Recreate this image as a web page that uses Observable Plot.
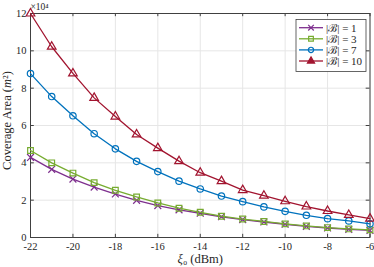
<!DOCTYPE html>
<html><head><meta charset="utf-8">
<script src="https://cdn.jsdelivr.net/npm/d3@7"></script>
<script src="https://cdn.jsdelivr.net/npm/@observablehq/plot@0.6"></script>
<style>
body{margin:0;background:#fff}
svg{font-family:"Liberation Serif","DejaVu Serif",serif}
</style>
</head><body><div id="chart"></div>
<script>
const xi = [-22,-21,-20,-19,-18,-17,-16,-15,-14,-13,-12,-11,-10,-9,-8,-7,-6];
const area1  = [4.29,3.65,3.13,2.70,2.33,1.99,1.71,1.48,1.30,1.11,0.96,0.83,0.71,0.60,0.51,0.44,0.38];
const area3  = [4.66,4.00,3.45,2.94,2.53,2.17,1.85,1.57,1.35,1.14,0.99,0.86,0.73,0.62,0.53,0.46,0.41];
const area7  = [8.78,7.55,6.52,5.56,4.75,4.08,3.53,3.02,2.60,2.22,1.92,1.64,1.40,1.19,1.01,0.89,0.73];
const area10 = [12.0,10.22,8.79,7.48,6.48,5.52,4.79,4.09,3.47,3.02,2.54,2.24,1.94,1.66,1.42,1.21,1.01];
const seriesNames = ["|ℬ| = 1","|ℬ| = 3","|ℬ| = 7","|ℬ| = 10"];
const seriesValues = [area1, area3, area7, area10];
const seriesColors = ["#7E2F8E","#77AC30","#0072BD","#A2142F"];
const seriesSymbols = ["times","square","circle","triangle"];
const xTicks = [-22,-20,-18,-16,-14,-12,-10,-8,-6];
const yTicks = [0,2,4,6,8,10,12];

const marks = [
  Plot.gridX(xTicks, {stroke:"#e6e6e6", strokeOpacity:1}),
  Plot.gridY(yTicks, {stroke:"#e6e6e6", strokeOpacity:1}),
  Plot.axisX(xTicks, {tickSize:0, tickPadding:5.5, tickFormat:d=>String(d), fontSize:10.5, label:null, fill:"#262626"}),
  Plot.axisY(yTicks, {tickSize:0, tickPadding:4, tickFormat:d=>String(d), fontSize:10.5, label:null, fill:"#262626"}),
  Plot.ruleX(xTicks, {y1:0, y2:0.17, stroke:"#404040"}),
  Plot.ruleX(xTicks, {y1:11.83, y2:12, stroke:"#404040"}),
  Plot.ruleY(yTicks, {x1:-22, x2:-21.82, stroke:"#404040"}),
  Plot.ruleY(yTicks, {x1:-6.18, x2:-6, stroke:"#404040"}),
  Plot.frame({stroke:"#404040"})
];
seriesValues.forEach((vals, k) => {
  const d = xi.map((x,i)=>({x, y: vals[i]}));
  marks.push(Plot.line(d, {x:"x", y:"y", stroke:seriesColors[k], strokeWidth:1.3}));
  marks.push(Plot.dot(d, {x:"x", y:"y", stroke:seriesColors[k], symbol:seriesSymbols[k], r:3.2, strokeWidth:1.2, fill:"none"}));
});
marks.push(Plot.text(["×10⁴"], {frameAnchor:"top-left", dy:-6.5, dx:0, textAnchor:"start", lineAnchor:"middle", fontSize:9.5, fill:"#262626"}));
marks.push(Plot.text(["Coverage Area (m²)"], {frameAnchor:"left", dx:-24, dy:-5, rotate:-90, textAnchor:"middle", lineAnchor:"middle", fontSize:12.5, fill:"#262626"}));
marks.push(Plot.text(["ξ₀ (dBm)"], {frameAnchor:"bottom", dy:21, textAnchor:"middle", lineAnchor:"middle", fontSize:12.5, fill:"#262626"}));

const chart = Plot.plot({
  width:374, height:267,
  marginLeft:30, marginRight:4.5, marginTop:13, marginBottom:30,
  x:{domain:[-22,-6]},
  y:{domain:[0,12]},
  marks
});
document.getElementById("chart").appendChild(chart);

const svg = d3.select(chart);
svg.selectAll("text").each(function(){
  const t = d3.select(this);
  if (t.text() === "Coverage Area (m²)") {
    t.text(null);
    t.append("tspan").text("Coverage Area (");
    t.append("tspan").attr("font-style","italic").text("m");
    t.append("tspan").text("²)");
  }
  if (t.text() === "ξ₀ (dBm)") {
    t.text(null);
    t.append("tspan").attr("font-style","italic").text("ξ");
    t.append("tspan").text("₀ (dBm)");
  }
});

// legend
const lg = svg.append("g").attr("font-size", 11).attr("text-anchor","start");
lg.append("rect").attr("x",296).attr("y",19.5).attr("width",70).attr("height",52)
  .attr("fill","#fff").attr("stroke","#404040").attr("stroke-width",0.8);
const d3syms = [d3.symbolTimes, d3.symbolSquare, d3.symbolCircle, d3.symbolTriangle];
seriesNames.forEach((name,k)=>{
  const yy = 27.7 + k*11.1;
  lg.append("line").attr("x1",299).attr("x2",323).attr("y1",yy).attr("y2",yy)
    .attr("stroke",seriesColors[k]).attr("stroke-width",1.3);
  lg.append("path").attr("transform",`translate(311,${yy})`)
    .attr("d", d3.symbol(d3syms[k], 22)())
    .attr("fill", k===3 ? seriesColors[k] : "none").attr("stroke",seriesColors[k]).attr("stroke-width",1.2);
  lg.append("text").attr("x",326).attr("y",yy).attr("dy","0.35em").attr("fill","#262626").text(name);
});
</script>
</body></html>
